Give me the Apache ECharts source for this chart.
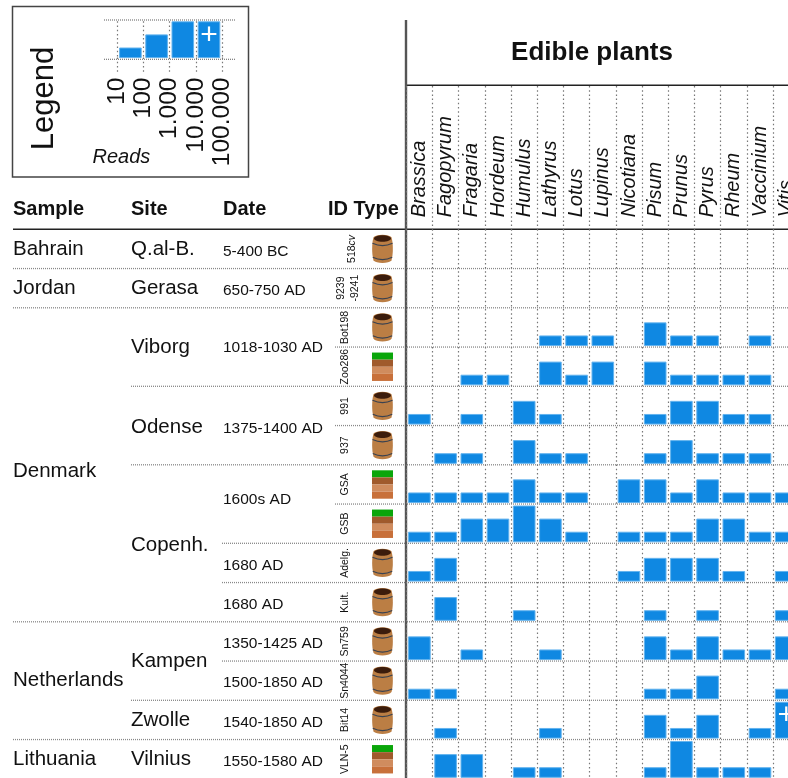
<!DOCTYPE html>
<html>
<head>
    <meta charset="utf-8">
    <title>Edible plants</title>
    <script src="https://cdn.jsdelivr.net/npm/echarts@6/dist/echarts.min.js"></script>
    <style>
        html, body { margin: 0; padding: 0; background: #fff; overflow: hidden; }
    </style>
</head>
<body>
<div id="main" style="width: 788px;height:778px;"></div>

<script type="text/javascript">
    var genera = ['Brassica', 'Fagopyrum', 'Fragaria', 'Hordeum', 'Humulus', 'Lathyrus', 'Lotus', 'Lupinus',
        'Nicotiana', 'Pisum', 'Prunus', 'Pyrus', 'Rheum', 'Vaccinium', 'Vitis'];

    // read classes per sample: 0 none, 1 = 10-100, 2 = 100-1.000, 3 = 1.000-10.000, 4 = 10.000-100.000 (the + bar)
    var r518cv  = [0,0,0,0,0,0,0,0,0,0,0,0,0,0,0];
    var r9239   = [0,0,0,0,0,0,0,0,0,0,0,0,0,0,0];
    var rBot198 = [0,0,0,0,0,1,1,1,0,2,1,1,0,1,0];
    var rZoo286 = [0,0,1,1,0,2,1,2,0,2,1,1,1,1,0];
    var r991    = [1,0,1,0,2,1,0,0,0,1,2,2,1,1,0];
    var r937    = [0,1,1,0,2,1,1,0,0,1,2,1,1,1,0];
    var rGSA    = [1,1,1,1,2,1,1,0,2,2,1,2,1,1,1];
    var rGSB    = [1,1,2,2,3,2,1,0,1,1,1,2,2,1,1];
    var rAdelg  = [1,2,0,0,0,0,0,0,1,2,2,2,1,0,1];
    var rKult   = [0,2,0,0,1,0,0,0,0,1,0,1,0,0,1];
    var rSn759  = [2,0,1,0,0,1,0,0,0,2,1,2,1,1,2];
    var rSn4044 = [1,1,0,0,0,0,0,0,0,1,1,2,0,0,1];
    var rBit14  = [0,1,0,0,0,1,0,0,0,2,1,2,0,1,4];
    var rVLN5   = [0,2,2,0,1,1,0,0,0,1,3,1,1,1,0];
    var rows = [r518cv, r9239, rBot198, rZoo286, r991, r937, rGSA, rGSB, rAdelg, rKult, rSn759, rSn4044, rBit14, rVLN5];

    var ids   = ['518cv', '9239\n-9241', 'Bot198', 'Zoo286', '991', '937', 'GSA', 'GSB', 'Adelg.', 'Kult.', 'Sn759', 'Sn4044', 'Bit14', 'VLN-5'];
    var types = ['b', 'b', 'b', 's', 'b', 'b', 's', 's', 'b', 'b', 'b', 'b', 'b', 's'];   // b barrel, s soil

    // name and number of rows it covers
    var samples     = ['Bahrain', 'Jordan', 'Denmark', 'Netherlands', 'Lithuania'];
    var sampleSpans = [1, 1, 8, 3, 1];
    var sites       = ['Q.al-B.', 'Gerasa', 'Viborg', 'Odense', 'Copenh.', 'Kampen', 'Zwolle', 'Vilnius'];
    var siteSpans   = [1, 1, 2, 2, 4, 2, 1, 1];
    var dates       = ['5-400 BC', '650-750 AD', '1018-1030 AD', '1375-1400 AD', '1600s AD', '1680 AD', '1680 AD',
        '1350-1425 AD', '1500-1850 AD', '1540-1850 AD', '1550-1580 AD'];
    var dateSpans   = [1, 1, 2, 2, 2, 1, 1, 1, 1, 1, 1];

    var legendBins   = [1, 2, 3, 4];
    var legendLabels = ['10', '100', '1.000', '10.000', '100.000'];
    var headers      = ['Sample', 'Site', 'Date', 'ID Type'];

    var FONT = '"Liberation Sans", Arial, sans-serif';
    var BLUE = '#0f88e2';
    var ROW_TOP = 229.3, ROW_H = 39.25, COL_W = 26.2, PLOT_LEFT = 406.3;
    var COL_X = [13, 131, 223, 328];
    var DOT = {color: '#777', width: 1.2, type: [1.5, 2.7]};

    echarts.graphic.registerShape('barrelBody', echarts.graphic.extendPath(
        'M1.5,3 C-0.3,9 -0.3,20 1.5,26 C4,29.5 17,29.5 19.5,26 C21.3,20 21.3,9 19.5,3 C17,-0.5 4,-0.5 1.5,3 Z', {}));

    var myChart = echarts.init(document.getElementById('main'), null, {renderer: 'canvas'});

    var grids = [], xAxes = [], yAxes = [], series = [], graphic = [];

    // builds the data of one row of bars, class 4 has the height of class 3 plus a white cross
    function barData(list) {
        return list.map(function (v) {
            if (!v) return null;
            return {value: Math.min(v, 3), label: {show: v === 4}};
        });
    }

    function addBarAxes(g, cats, list) {
        xAxes.push({gridIndex: g, type: 'category', position: 'bottom', data: cats, show: false});
        yAxes.push({gridIndex: g, type: 'value', min: 0.23, max: 3, show: false});
        series.push({
            type: 'bar', xAxisIndex: xAxes.length - 1, yAxisIndex: yAxes.length - 1,
            data: barData(list), barWidth: 22.6, clip: true, silent: true, animation: false,
            itemStyle: {color: BLUE, borderColor: '#63b3ee', borderWidth: 1},
            label: {
                show: false, position: 'insideTop', distance: -1, formatter: '+',
                color: '#fff', fontSize: 30, fontFamily: FONT
            }
        });
    }

    function text(t, x, y, font, opt) {
        var s = {text: t, font: font + ' ' + FONT, fill: '#111', textAlign: 'left', textVerticalAlign: 'middle'};
        for (var k in opt) if (k !== 'rotation') s[k] = opt[k];
        graphic.push({type: 'text', x: x, y: y, rotation: (opt && opt.rotation) || 0, style: s, silent: true});
    }

    function line(x1, y1, x2, y2, color, width, dash) {
        graphic.push({
            type: 'line', silent: true, shape: {x1: x1, y1: y1, x2: x2, y2: y2},
            style: {stroke: color, lineWidth: width, lineDash: dash || null}
        });
    }

    function rowY(i) { return ROW_TOP + ROW_H * i; }

    // spanned text column, centred on the rows it covers
    function column(names, spans, x, font, shift, nudge) {
        var at = 0;
        names.forEach(function (n, i) {
            text(n, x, rowY(at + spans[i] / 2) + shift + ((nudge && nudge[n]) || 0), font);
            at += spans[i];
        });
    }

    function barrel(x, y) {
        graphic.push({
            type: 'group', x: x, y: y, silent: true, children: [
                {type: 'barrelBody', style: {fill: '#bb7e44'}},
                {type: 'ellipse', shape: {cx: 10.5, cy: 4.2, rx: 8.5, ry: 3.2}, style: {fill: '#3b1c0c'}},
                {type: 'bezierCurve', shape: {x1: 0.5, y1: 9, cpx1: 7, cpy1: 12, x2: 20.5, y2: 9, cpx2: 14, cpy2: 12},
                    style: {stroke: '#3a4250', lineWidth: 1.2, fill: 'none'}},
                {type: 'bezierCurve', shape: {x1: 0.8, y1: 23, cpx1: 7, cpy1: 26, x2: 20.2, y2: 23, cpx2: 14, cpy2: 26},
                    style: {stroke: '#3a4250', lineWidth: 1.2, fill: 'none'}}
            ]
        });
    }

    function soil(x, y) {
        var bands = ['#0aa60a', '#a05a2c', '#d08c5e', '#c8703a'];
        bands.forEach(function (c, i) {
            graphic.push({type: 'rect', silent: true, shape: {x: x, y: y + i * 7.1, width: 21, height: 7.1}, style: {fill: c}});
        });
    }

    // column guides and genus names
    grids.push({left: PLOT_LEFT, top: 86, width: COL_W * genera.length, height: ROW_TOP - 86, outerBoundsMode: 'none'});
    xAxes.push({
        gridIndex: 0, type: 'category', position: 'bottom', data: genera,
        axisLine: {show: false}, axisTick: {show: false},
        splitLine: {show: true, interval: 0, lineStyle: DOT},
        axisLabel: {
            interval: 0, inside: true, rotate: 90, margin: 12,
            fontSize: 20, fontStyle: 'italic', color: '#111', fontFamily: FONT
        }
    });
    yAxes.push({gridIndex: 0, type: 'value', show: false});

    grids.push({left: PLOT_LEFT, top: ROW_TOP, width: COL_W * genera.length, height: 778 - ROW_TOP, outerBoundsMode: 'none'});
    xAxes.push({
        gridIndex: 1, type: 'category', position: 'bottom', data: genera,
        axisLine: {show: false}, axisTick: {show: false}, axisLabel: {show: false},
        splitLine: {show: true, interval: 0, lineStyle: DOT}
    });
    yAxes.push({gridIndex: 1, type: 'value', show: false});

    // legend chart: tick axis and bar axis share one grid
    var lg = grids.length;
    grids.push({left: 117.3, top: 21.3, width: COL_W * 4, height: 36.3, outerBoundsMode: 'none'});
    xAxes.push({
        gridIndex: lg, type: 'category', position: 'bottom', data: legendLabels, boundaryGap: false,
        axisLine: {show: false},
        axisTick: {show: true, interval: 0, length: 14.5, lineStyle: DOT},
        splitLine: {show: true, interval: 0, lineStyle: DOT},
        axisLabel: {interval: 0, rotate: 90, margin: 20, fontSize: 24.5, color: '#111', fontFamily: FONT}
    });
    yAxes.push({gridIndex: lg, type: 'value', show: false});
    addBarAxes(lg, legendBins.map(String), legendBins);

    // one small grid per sample
    rows.forEach(function (list, i) {
        var g = grids.length;
        grids.push({left: PLOT_LEFT, top: rowY(i) + 1.45, width: COL_W * genera.length, height: 36.3, outerBoundsMode: 'none'});
        addBarAxes(g, genera, list);
    });

    // legend frame and its texts
    graphic.push({type: 'rect', silent: true, shape: {x: 12.5, y: 6.5, width: 236, height: 170.5},
        style: {fill: 'none', stroke: '#444', lineWidth: 1.5}});
    line(104, 20, 236, 20, '#777', 1.2, [1, 1]);
    line(104, 59.3, 236, 59.3, '#777', 1.2, [1, 1]);
    text('Legend', 44.5, 98.5, '31px', {rotation: Math.PI / 2, textAlign: 'center'});
    text('Reads', 92.5, 157, 'italic 20px');

    // table head
    headers.forEach(function (h, i) { text(h, COL_X[i], 209.5, 'bold 20px'); });
    line(13, ROW_TOP, 788, ROW_TOP, '#222', 1.5);
    line(406, 85.3, 788, 85.3, '#222', 1.5);

    // row separators: where each one starts depends on the spans
    var ruleStart = [13, 13, 335, 131, 335, 131, 335, 222, 222, 13, 222, 131, 13];
    ruleStart.forEach(function (x, i) {
        line(x, rowY(i + 1), 788, rowY(i + 1), '#888', 1.3, [1, 1]);
    });
    line(406, 20, 406, 778, '#555', 2.4);

    column(samples, sampleSpans, 13, '20.5px', 0, {Denmark: 7});
    column(sites, siteSpans, 131, '20.5px', 0, {'Odense': 2, 'Copenh.': 2});
    column(dates, dateSpans, 223, '15.5px', 2.5, {'1018-1030 AD': -1.5, '1375-1400 AD': 1, '1600s AD': -7});

    ids.forEach(function (id, i) {
        var x = id === '518cv' ? 352 : (i === 1 ? 348 : 345.5);
        text(id === '518cv' ? '{n|518}{i|cv}' : id, x, rowY(i + 0.5), '10.5px', {
            rotation: Math.PI / 2, textAlign: 'center', lineHeight: 14,
            rich: {
                n: {font: '10.5px ' + FONT, fill: '#111'},
                i: {font: 'italic 10.5px ' + FONT, fill: '#111'}
            }
        });
        if (types[i] === 'b') barrel(372, rowY(i) + 5);
        else soil(372, rowY(i) + 5.5);
    });

    myChart.setOption({
        animation: false,
        backgroundColor: '#fff',
        textStyle: {fontFamily: FONT},
        title: {
            text: 'Edible plants', left: 587, top: 35, textAlign: 'center',
            textStyle: {fontSize: 26, fontWeight: 'bold', color: '#111', fontFamily: FONT}
        },
        tooltip: {show: false},
        grid: grids,
        xAxis: xAxes,
        yAxis: yAxes,
        series: series,
        graphic: {elements: graphic}
    });
</script>
</body>
</html>
